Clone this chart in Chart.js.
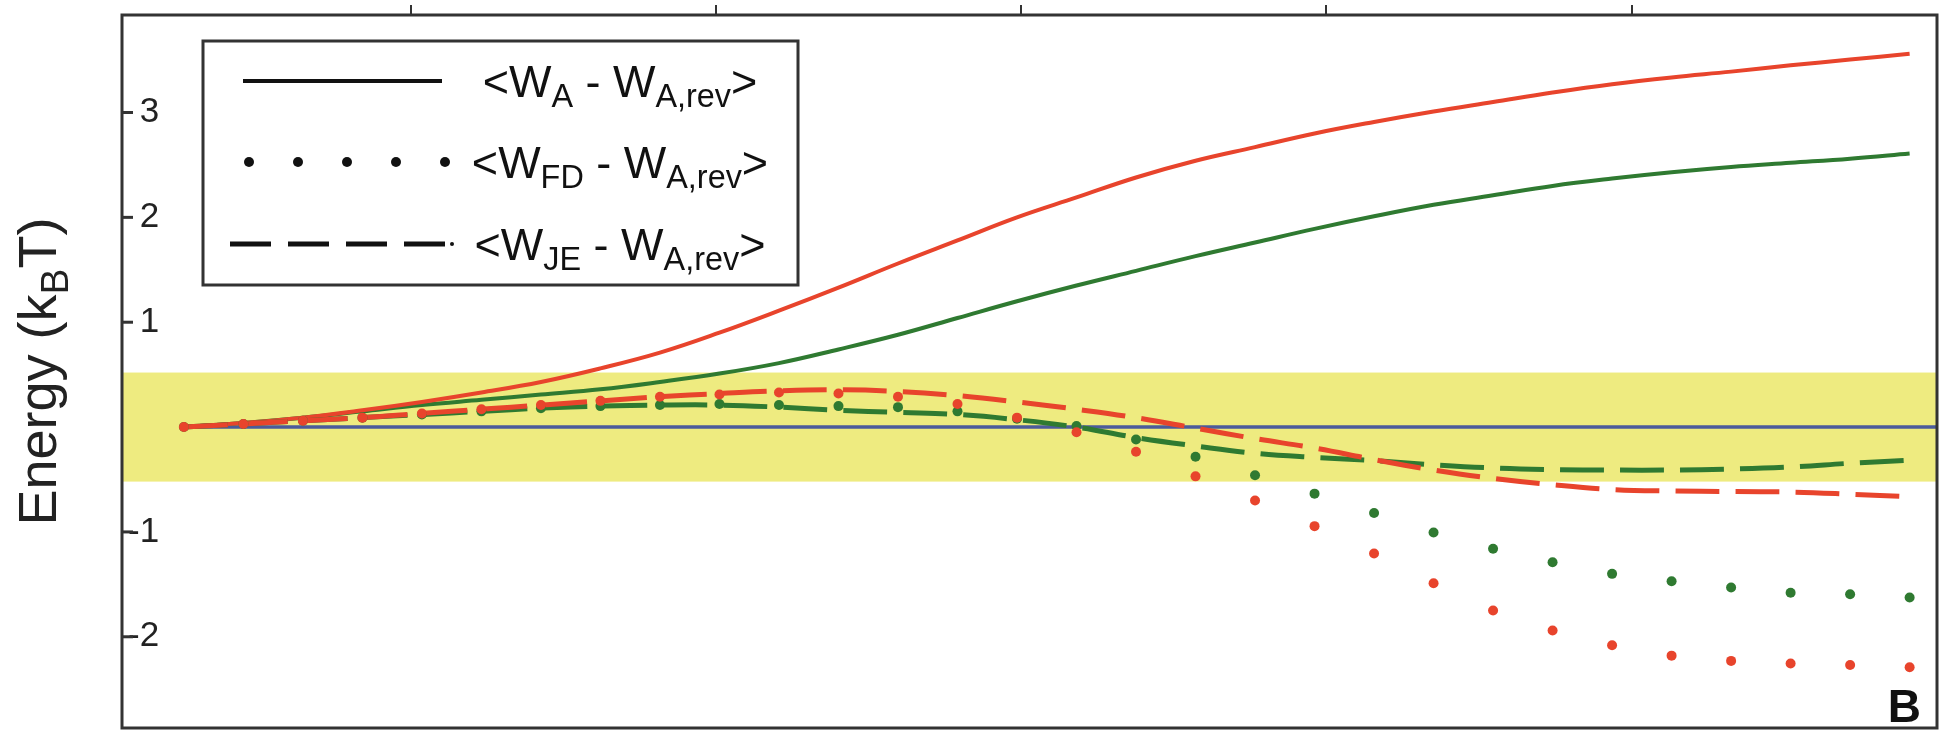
<!DOCTYPE html>
<html>
<head>
<meta charset="utf-8">
<script src="https://cdn.jsdelivr.net/npm/chart.js@4.4.0/dist/chart.umd.min.js"></script>
<style>
  html, body { margin: 0; padding: 0; background: #fff; }
</style>
</head>
<body>
<canvas id="energy" width="1951" height="733"></canvas>
<script>
// x positions (time steps) shared by every series
const steps = [0, 1, 2, 3, 4, 5, 6, 7, 8, 9, 10, 11, 12, 13, 14, 15, 16, 17, 18, 19, 20, 21, 22, 23, 24, 25, 26, 27, 28, 29];

// <W_A - W_A,rev>
const redWork = [0, 0.04, 0.09, 0.16, 0.24, 0.33, 0.43, 0.56, 0.71, 0.9, 1.11, 1.33, 1.56, 1.78, 2.0, 2.19, 2.38, 2.54, 2.67, 2.8, 2.91, 3.01, 3.1, 3.19, 3.27, 3.335, 3.39, 3.45, 3.505, 3.56];
const greenWork = [0, 0.04, 0.09, 0.15, 0.21, 0.26, 0.31, 0.36, 0.43, 0.51, 0.61, 0.74, 0.88, 1.04, 1.2, 1.35, 1.49, 1.63, 1.76, 1.89, 2.01, 2.12, 2.21, 2.3, 2.37, 2.43, 2.48, 2.52, 2.56, 2.61];

// <W_FD - W_A,rev>
const redFD = [0, 0.03, 0.06, 0.09, 0.13, 0.17, 0.21, 0.25, 0.29, 0.31, 0.33, 0.32, 0.29, 0.22, 0.09, -0.05, -0.235, -0.47, -0.7, -0.945, -1.205, -1.49, -1.75, -1.94, -2.08, -2.18, -2.23, -2.255, -2.27, -2.29];
const greenFD = [0, 0.03, 0.06, 0.09, 0.12, 0.15, 0.18, 0.2, 0.21, 0.22, 0.21, 0.2, 0.19, 0.15, 0.08, 0.01, -0.118, -0.283, -0.46, -0.635, -0.82, -1.005, -1.16, -1.29, -1.4, -1.47, -1.53, -1.58, -1.595, -1.625];

// <W_JE - W_A,rev>
const redJE = [0, 0.03, 0.06, 0.09, 0.13, 0.17, 0.21, 0.25, 0.29, 0.32, 0.345, 0.355, 0.34, 0.3, 0.24, 0.17, 0.09, -0.01, -0.11, -0.2, -0.31, -0.41, -0.49, -0.55, -0.595, -0.61, -0.615, -0.62, -0.64, -0.665];
const greenJE = [0, 0.03, 0.06, 0.09, 0.12, 0.15, 0.18, 0.2, 0.21, 0.21, 0.19, 0.16, 0.14, 0.12, 0.07, 0.0, -0.1, -0.18, -0.25, -0.29, -0.32, -0.36, -0.39, -0.405, -0.41, -0.41, -0.4, -0.38, -0.345, -0.315];

const yTickValues = [-2, -1, 1, 2, 3];
const xTickValues = [3.81, 8.94, 14.07, 19.2, 24.33];
const xRange = [-1.04, 29.46];
const yRange = [-2.87, 3.93];
const band = [-0.52, 0.52];

// legend text pieces: [text, isSubscript]
const legendRows = [
  [['<W', false], ['A', true], [' - W', false], ['A,rev', true], ['>', false]],
  [['<W', false], ['FD', true], [' - W', false], ['A,rev', true], ['>', false]],
  [['<W', false], ['JE', true], [' - W', false], ['A,rev', true], ['>', false]]
];
const legendStyles = ['solid', 'dotted', 'dashed'];

const RED = '#e8442c';
const GREEN = '#2f7a31';
const BLUE = '#4b5b9b';
const FONT = '"Liberation Sans", Arial, Helvetica, sans-serif';

const pts = (ys) => steps.map((x, i) => ({x: x, y: ys[i]}));

// draws a string made of normal / subscript parts
function drawParts(ctx, parts, x, y, size) {
  let cx = x;
  parts.forEach(([t, sub]) => {
    const s = sub ? size * 0.72 : size;
    ctx.font = s + 'px ' + FONT;
    ctx.fillText(t, cx, sub ? y + size * 0.22 : y);
    cx += ctx.measureText(t).width;
  });
  return cx - x;
}
function partsWidth(ctx, parts, size) {
  let w = 0;
  parts.forEach(([t, sub]) => {
    ctx.font = (sub ? size * 0.72 : size) + 'px ' + FONT;
    w += ctx.measureText(t).width;
  });
  return w;
}

const bandPlugin = {
  id: 'band',
  beforeDatasetsDraw(chart) {
    const {ctx, chartArea: a, scales: {y}} = chart;
    const top = y.getPixelForValue(band[1]);
    const bot = y.getPixelForValue(band[0]);
    ctx.save();
    ctx.fillStyle = '#eeeb80';
    ctx.fillRect(a.left, top, a.right - a.left, bot - top);
    ctx.restore();
  }
};

const decorPlugin = {
  id: 'decor',
  afterDraw(chart) {
    const {ctx, chartArea: a, scales: {y}} = chart;
    ctx.save();
    // frame
    ctx.strokeStyle = '#333';
    ctx.lineWidth = 3;
    ctx.strokeRect(a.left, a.top, a.right - a.left, a.bottom - a.top);
    // inner y tick marks
    yTickValues.forEach(v => {
      const py = y.getPixelForValue(v);
      ctx.beginPath();
      ctx.moveTo(a.left, py);
      ctx.lineTo(a.left + 11, py);
      ctx.stroke();
    });

    // y title
    ctx.fillStyle = '#222';
    ctx.textBaseline = 'alphabetic';
    ctx.textAlign = 'left';
    const title = [['Energy (k', false], ['B', true], ['T)', false]];
    const ts = 54;
    const tw = partsWidth(ctx, title, ts);
    ctx.save();
    ctx.translate(37, (a.top + a.bottom) / 2);
    ctx.rotate(-Math.PI / 2);
    drawParts(ctx, title, -tw / 2, ts * 0.36, ts);
    ctx.restore();

    // legend box
    const lx = 203, ly = 41, lw = 595, lh = 244;
    ctx.fillStyle = '#fff';
    ctx.fillRect(lx, ly, lw, lh);
    ctx.strokeStyle = '#333';
    ctx.lineWidth = 3;
    ctx.strokeRect(lx, ly, lw, lh);
    const rowY = [81, 162, 244];
    const fs = 45;
    legendRows.forEach((parts, i) => {
      const cy = rowY[i];
      ctx.strokeStyle = '#111';
      ctx.fillStyle = '#111';
      ctx.lineWidth = 4;
      if (legendStyles[i] === 'solid') {
        ctx.setLineDash([]);
        ctx.beginPath(); ctx.moveTo(243, cy); ctx.lineTo(442, cy); ctx.stroke();
      } else if (legendStyles[i] === 'dotted') {
        for (let k = 0; k < 5; k++) {
          ctx.beginPath(); ctx.arc(249 + k * 49, cy, 5, 0, Math.PI * 2); ctx.fill();
        }
      } else {
        ctx.setLineDash([41, 17]);
        ctx.lineWidth = 5;
        ctx.beginPath(); ctx.moveTo(230, cy); ctx.lineTo(446, cy); ctx.stroke();
        ctx.setLineDash([]);
        ctx.beginPath(); ctx.arc(452, cy, 2, 0, Math.PI * 2); ctx.fill();
      }
      const w = partsWidth(ctx, parts, fs);
      drawParts(ctx, parts, 620 - w / 2, cy + fs * 0.36, fs);
    });

    // panel letter
    ctx.font = 'bold 46px ' + FONT;
    ctx.textAlign = 'right';
    ctx.fillStyle = '#111';
    ctx.fillText('B', 1921, 722);
    ctx.restore();
  }
};

new Chart('energy', {
  type: 'scatter',
  data: {
    datasets: [
      {data: pts(redFD), showLine: false, pointRadius: 5, pointBorderWidth: 0, pointBackgroundColor: RED, order: 1},
      {data: pts(greenFD), showLine: false, pointRadius: 5, pointBorderWidth: 0, pointBackgroundColor: GREEN, order: 2},
      {data: pts(redJE), showLine: true, borderColor: RED, borderWidth: 5, borderDash: [44, 16], pointRadius: 0, tension: 0.4, order: 3},
      {data: pts(greenJE), showLine: true, borderColor: GREEN, borderWidth: 5, borderDash: [44, 16], pointRadius: 0, tension: 0.4, order: 4},
      {data: pts(redWork), showLine: true, borderColor: RED, borderWidth: 4, pointRadius: 0, tension: 0.4, order: 5},
      {data: pts(greenWork), showLine: true, borderColor: GREEN, borderWidth: 4, pointRadius: 0, tension: 0.4, order: 6},
      {data: [{x: steps[0], y: 0}, {x: xRange[1], y: 0}], showLine: true, borderColor: BLUE, borderWidth: 3.5, pointRadius: 0, order: 7}
    ]
  },
  options: {
    responsive: false,
    animation: false,
    devicePixelRatio: 1,
    layout: {padding: {left: 122, right: 14, top: 5, bottom: 5}},
    plugins: {legend: {display: false}, tooltip: {enabled: false}},
    scales: {
      x: {
        type: 'linear',
        position: 'top',
        min: xRange[0],
        max: xRange[1],
        afterBuildTicks: (s) => { s.ticks = xTickValues.map(v => ({value: v})); },
        ticks: {display: false},
        grid: {drawOnChartArea: false, drawTicks: true, tickLength: 10, lineWidth: 2, color: '#333'},
        border: {display: false}
      },
      y: {
        min: yRange[0],
        max: yRange[1],
        afterBuildTicks: (s) => { s.ticks = yTickValues.map(v => ({value: v})); },
        afterFit: (s) => { s.width = 0; s.paddingTop = 0; s.paddingBottom = 0; },
        ticks: {mirror: true, crossAlign: 'far', padding: 6, color: '#222', font: {family: FONT, size: 35}},
        grid: {display: false, drawTicks: false},
        border: {display: false}
      }
    }
  },
  plugins: [bandPlugin, decorPlugin]
});
</script>
</body>
</html>
